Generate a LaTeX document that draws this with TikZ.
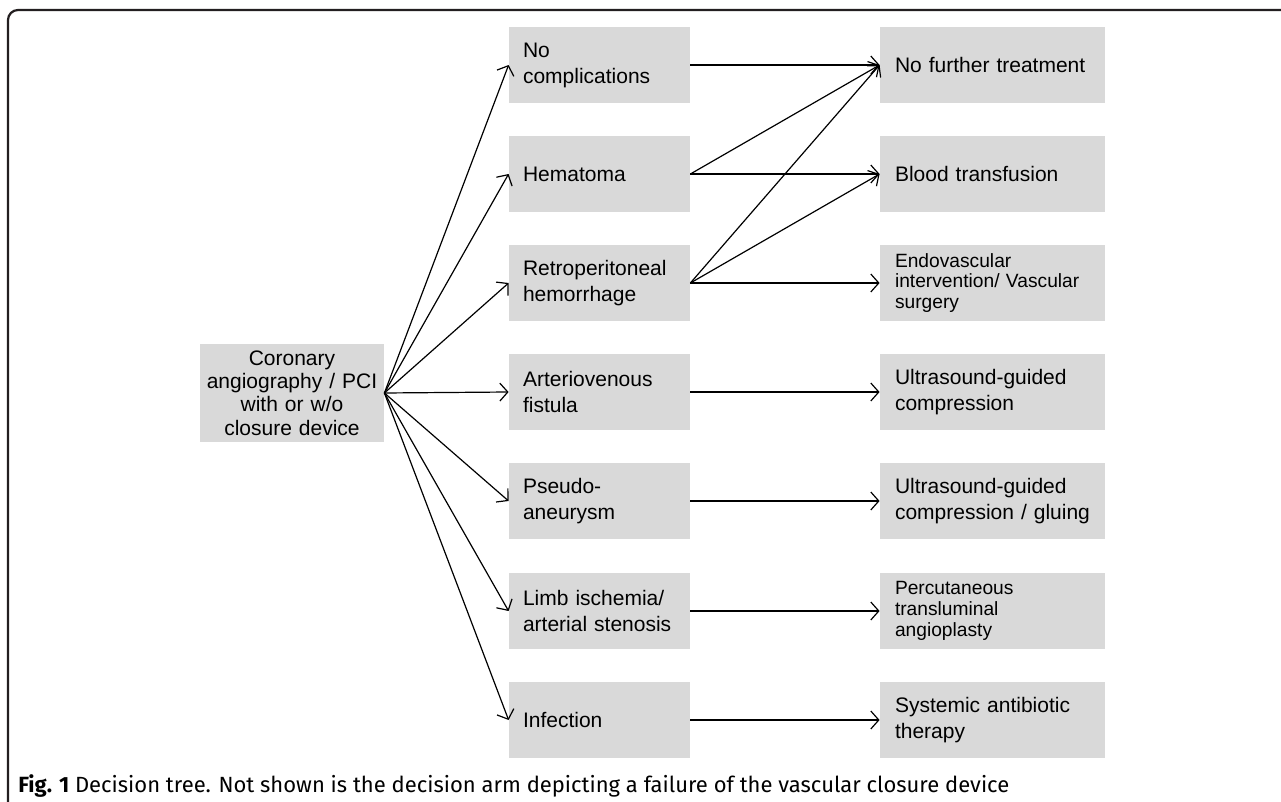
\documentclass[tikz,border=0pt]{standalone}
\usepackage{fontspec}
\setmainfont{Liberation Sans}
\newfontfamily\capfont{Fira Sans}
\usetikzlibrary{arrows.meta}

\begin{document}
\begin{tikzpicture}[x=0.5pt, y=-0.5pt]
    % Define colors
    \definecolor{boxgray}{RGB}{217,217,217}
    \definecolor{framedark}{RGB}{35,31,32}

    \tikzset{
        midbox/.style={fill=boxgray, text width=76.5pt, inner xsep=7pt, inner ysep=0pt,
            minimum height=38pt, align=left, font=\fontsize{10.5}{13}\selectfont},
        endbox/.style={fill=boxgray, text width=97.5pt, inner xsep=7.5pt, inner ysep=0pt,
            minimum height=38pt, align=left, font=\fontsize{10.5}{13}\selectfont},
        smalltext/.style={font=\fontsize{9.6}{10.4}\selectfont},
        arr/.style={-{Straight Barb[length=4pt, width=9pt]}, line width=0.6pt}
    }

    \useasboundingbox (0,0) rectangle (1281,802);

    % Frame
    \draw[framedark, line width=1.1pt, rounded corners=5pt] (8,802) -- (8,10) -- (1281,10);

    % Start node
    \node[fill=boxgray, text width=88pt, inner xsep=2pt, minimum height=49pt, align=center,
        font=\fontsize{10.5}{11.7}\selectfont] (start) at (292,393)
        {Coronary\\ angiography / PCI\\ with or w/o\\ closure device};

    % Complications
    \node[midbox] (nocomp) at (599.5,65)  {No\\ complications};
    \node[midbox] (hema)   at (599.5,174) {Hematoma};
    \node[midbox] (retro)  at (599.5,283) {Retroperitoneal\\ hemorrhage};
    \node[midbox] (avf)    at (599.5,392) {Arteriovenous\\ fistula};
    \node[midbox] (pseudo) at (599.5,501) {Pseudo-\\ aneurysm};
    \node[midbox] (limb)   at (599.5,611) {Limb ischemia/\\ arterial stenosis};
    \node[midbox] (infect) at (599.5,720) {Infection};

    % Treatments
    \node[endbox] (nofurther) at (992.5,65)  {No further treatment};
    \node[endbox] (blood)     at (992.5,174) {Blood transfusion};
    \node[endbox, smalltext] (endo) at (992.5,283) {Endovascular\\ intervention/ Vascular\\ surgery};
    \node[endbox] (usgc)      at (992.5,392) {Ultrasound-guided\\ compression};
    \node[endbox] (usgg)      at (992.5,501) {Ultrasound-guided\\ compression / gluing};
    \node[endbox, smalltext] (pta) at (992.5,611) {Percutaneous\\ transluminal\\ angioplasty};
    \node[endbox] (antibio)   at (992.5,720) {Systemic antibiotic\\ therapy};

    % Arrows from start
    \foreach \m in {nocomp,hema,retro,avf,pseudo,limb,infect}
        \draw[arr] (start.east) -- (\m.west);

    % Arrows to treatments
    \foreach \a/\b in {nocomp/nofurther, hema/nofurther, hema/blood, retro/nofurther,
        retro/blood, retro/endo, avf/usgc, pseudo/usgg, limb/pta, infect/antibio}
        \draw[arr] (\a.east) -- (\b.west);

    % Caption
    \node[anchor=base west, inner sep=0pt, font=\capfont\fontsize{11}{13}\selectfont] (caption) at (18,792)
        {\textbf{Fig. 1} Decision tree. Not shown is the decision arm depicting a failure of the vascular closure device};
\end{tikzpicture}
\end{document}
